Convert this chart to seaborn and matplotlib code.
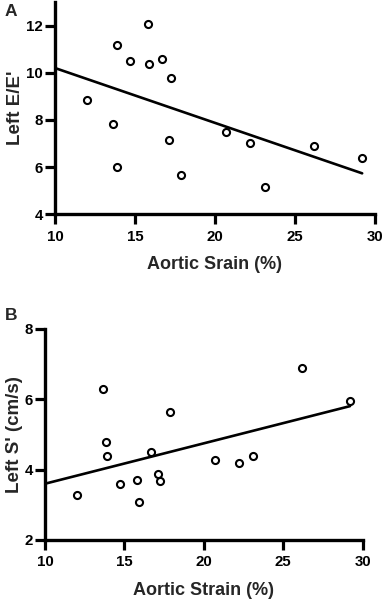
import numpy as np
import pandas as pd
import matplotlib
matplotlib.use("Agg")
import matplotlib.pyplot as plt
import seaborn as sns

# dados (mesmos pacientes nos dois painéis)
aortic_strain = [12.0, 13.65, 13.85, 13.9, 14.7, 15.8, 15.9, 16.7,
                 17.1, 17.25, 17.85, 20.7, 22.2, 23.1, 26.2, 29.2]
left_e_e = [8.85, 7.83, 6.02, 11.2, 10.5, 12.06, 10.37, 10.59,
            7.15, 9.77, 5.68, 7.5, 7.04, 5.17, 6.88, 6.39]
left_s = [3.28, 6.29, 4.79, 4.4, 3.59, 3.7, 3.09, 4.49,
          3.89, 3.69, 5.63, 4.28, 4.19, 4.39, 6.9, 5.95]

x_ticks = [10, 15, 20, 25, 30]
y_ticks_a = [4, 6, 8, 10, 12]
y_ticks_b = [2, 4, 6, 8]

sns.set_theme(style="ticks")
plt.rcParams["font.family"] = ["Liberation Sans", "DejaVu Sans"]
plt.rcParams["font.weight"] = "bold"

df = pd.DataFrame({"strain": aortic_strain, "ee": left_e_e, "s": left_s})

fig = plt.figure(figsize=(3.83, 6.01), dpi=100)
ax_a = fig.add_axes([0.1436, 0.6434, 0.8354, 0.3531])
ax_b = fig.add_axes([0.1175, 0.1015, 0.8295, 0.3511])


def painel(ax, col, ylim, yticks, xlabel, ylabel):
    sns.scatterplot(data=df, x="strain", y=col, ax=ax, s=26, marker="o",
                    facecolor="white", edgecolor="black", linewidth=1.5,
                    zorder=3, clip_on=False)
    # reta de regressão linear, do início do eixo até o maior x
    b, a = np.polyfit(df["strain"], df[col], 1)
    xs = np.array([x_ticks[0], df["strain"].max()])
    sns.lineplot(x=xs, y=a + b * xs, ax=ax, color="black", linewidth=1.9,
                 zorder=2)
    ax.set_xlim(x_ticks[0], x_ticks[-1])
    ax.set_ylim(*ylim)
    ax.set_xticks(x_ticks)
    ax.set_yticks(yticks)
    ax.set_xlabel(xlabel, fontsize=13, fontweight="bold", labelpad=9)
    ax.set_ylabel(ylabel, fontsize=13.5, fontweight="bold", labelpad=1.5)
    for lbl in ax.get_xticklabels() + ax.get_yticklabels():
        lbl.set_fontweight("bold")
        lbl.set_fontsize(10.8)
    ax.tick_params(width=2.3, length=7, colors="black")
    ax.tick_params(axis="x", pad=4)
    ax.tick_params(axis="y", pad=1.5)
    for side in ["left", "bottom"]:
        ax.spines[side].set_linewidth(2.4)
        ax.spines[side].set_color("black")
    sns.despine(ax=ax)


painel(ax_a, "ee", (4, 13), y_ticks_a, "Aortic Srain (%)", "Left E/E'")
painel(ax_b, "s", (2, 8), y_ticks_b, "Aortic Strain (%)", "Left S' (cm/s)")

fig.text(0.012, 0.993, "A", fontsize=12.5, fontweight="bold", va="top")
fig.text(0.012, 0.488, "B", fontsize=12.5, fontweight="bold", va="top")

fig.savefig("out.png", dpi=100)
